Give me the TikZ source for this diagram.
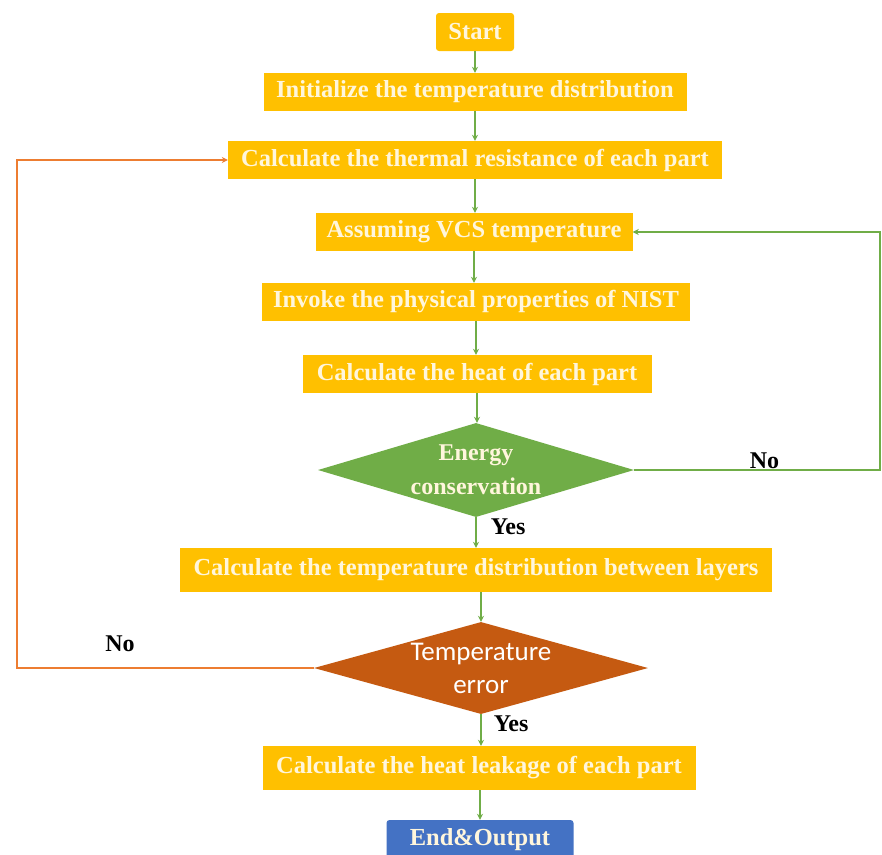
\documentclass[tikz,border=0pt]{standalone}
\usepackage{fontspec}
\setmainfont{LiberationSerif}[Extension=.ttf, UprightFont=*-Regular, BoldFont=*-Bold]
\newfontfamily\calfont{Carlito}
\usetikzlibrary{arrows.meta,shapes.geometric}
\definecolor{boxgold}{RGB}{255,192,0}
\definecolor{leaf}{RGB}{112,173,71}
\definecolor{rust}{RGB}{197,90,17}
\definecolor{loopor}{RGB}{237,125,49}
\definecolor{navy}{RGB}{68,114,196}
\definecolor{cream}{RGB}{255,246,220}
\tikzset{
  stepbox/.style={fill=boxgold, text=cream, inner sep=0, minimum height=38,
    font=\fontsize{24.5}{26}\selectfont\bfseries},
  endbox/.style={stepbox, rounded corners=3pt},
  ask/.style={diamond, aspect=3.4, inner sep=0, minimum width=316, minimum height=94,
    align=center, font=\fontsize{24}{34}\selectfont\bfseries},
  flow/.style={leaf, line width=1.5pt, -{Stealth[length=6pt,width=6pt]}},
  back/.style={loopor, line width=1.5pt, -{Stealth[length=6pt,width=6pt]}},
  tag/.style={font=\fontsize{24}{26}\selectfont\bfseries, text=black, inner sep=1pt}
}
\begin{document}
\begin{tikzpicture}[x=1pt,y=-1pt]
    \useasboundingbox[fill=white] (0,0) rectangle (882,854);
    \coordinate (lft) at (17,0);
    \coordinate (rgt) at (880,0);
    % main column
    \node[endbox, minimum width=78] (start) at (475,32) {Start};
    \node[stepbox, minimum width=423] (init) at (475,92) {Initialize the temperature distribution};
    \node[stepbox, minimum width=494] (thermal) at (475,160) {Calculate the thermal resistance of each part};
    \node[stepbox, minimum width=317] (vcs) at (474,232) {Assuming VCS temperature};
    \node[stepbox, minimum width=428] (nist) at (476,302) {Invoke the physical properties of NIST};
    \node[stepbox, minimum width=349] (heat) at (477,374) {Calculate the heat of each part};
    \node[ask, fill=leaf, text=cream] (energy) at (476,470) {Energy\\conservation};
    \node[stepbox, minimum width=592, minimum height=44] (layers) at (476,570) {Calculate the temperature distribution between layers};
    \node[ask, fill=rust, text=white, minimum width=334, minimum height=92,
      font=\fontsize{27}{33}\selectfont\calfont] (terr) at (481,668) {Temperature\\error};
    \node[stepbox, minimum width=433, minimum height=44] (leak) at (479,768) {Calculate the heat leakage of each part};
    \node[endbox, fill=navy, minimum width=187, minimum height=40] (out) at (480,840) {End\&Output};
    % connectors
    \draw[flow] (start) -- (init);
    \draw[flow] (init.south) -- (init.south |- thermal.north);
    \draw[flow] (thermal.south) -- (thermal.south |- vcs.north);
    \draw[flow] (vcs.south) -- (vcs.south |- nist.north);
    \draw[flow] (nist.south) -- (nist.south |- heat.north);
    \draw[flow] (heat.south) -- (heat.south |- energy.north);
    \draw[flow] (energy) -- node[tag, anchor=north west, pos=0, xshift=13pt] {Yes} (layers);
    \draw[flow] (layers.south -| terr) -- (terr);
    \draw[flow] (terr) -- node[tag, anchor=north west, pos=0, xshift=11pt] {Yes} (terr |- leak.north);
    \draw[flow] (leak.south -| out) -- (out);
    \draw[flow] (energy.east) -- node[tag, anchor=south, pos=0.53] {No} (energy.east -| rgt) |- (vcs.east);
    \draw[back] (terr.west) -- (terr.west -| lft) |- (thermal.west);
    \node[tag] (nolbl) at (120,644) {No};
  \end{tikzpicture}
\end{document}
